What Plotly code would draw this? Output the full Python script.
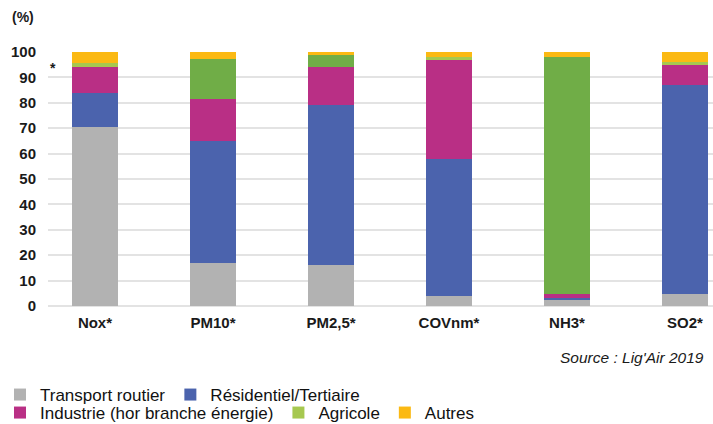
import plotly.graph_objects as go

categories = ["Nox*", "PM10*", "PM2,5*", "COVnm*", "NH3*", "SO2*"]
transport = [70.5, 17.0, 16.0, 4.0, 2.4, 4.7]
residentiel = [13.2, 48.0, 63.0, 54.0, 0.6, 82.3]
industrie = [10.5, 16.5, 15.0, 39.0, 1.8, 8.0]
agricole = [1.5, 15.7, 5.0, 1.0, 93.2, 1.2]
autres = [4.3, 2.8, 1.0, 2.0, 2.0, 3.8]
yticks = [0, 10, 20, 30, 40, 50, 60, 70, 80, 90, 100]

FONT = "Liberation Sans"
PLOT_L, PLOT_T, PLOT_B, W, H = 48, 52, 306, 713, 424
PH = PLOT_B - PLOT_T
PW = W - PLOT_L

def px_x(px):
    return (px - PLOT_L) / PW

def px_y(py):
    return (PLOT_B - py) / PH

agri_colors = ["#a6c850", "#70ad47", "#70ad47", "#a6c850", "#70ad47", "#a6c850"]

series = [
    ("Transport routier", transport, "#b2b2b2", "legend"),
    ("Résidentiel/Tertiaire", residentiel, "#4b63ad", "legend"),
    ("Industrie (hor branche énergie)", industrie, "#b92f85", "legend2"),
    ("Agricole", agricole, agri_colors, "legend2"),
    ("Autres", autres, "#fbb913", "legend2"),
]

fig = go.Figure()
for name, vals, color, leg in series:
    fig.add_trace(go.Bar(
        x=categories, y=vals, name=name,
        marker=dict(color=color, line=dict(width=0)),
        width=0.39, legend=leg, hoverinfo="x+y+name",
    ))

legend_common = dict(
    orientation="h", xanchor="left", yanchor="middle",
    xref="container", yref="container",
    font=dict(family=FONT, size=17, color="#111111"),
    bgcolor="rgba(0,0,0,0)", borderwidth=0,
    itemclick=False, itemdoubleclick=False,
    tracegroupgap=0, itemwidth=30, traceorder="normal",
)

fig.update_layout(
    width=W, height=H,
    margin=dict(l=PLOT_L, r=0, t=PLOT_T, b=H - PLOT_B, pad=0, autoexpand=False),
    barmode="stack",
    plot_bgcolor="white", paper_bgcolor="white",
    showlegend=True,
    legend=dict(x=-8 / W, y=1 - 395 / H, **legend_common),
    legend2=dict(x=-8 / W, y=1 - 413 / H, **legend_common),
    xaxis=dict(
        range=[-0.398, 5.237],
        showgrid=False, zeroline=False, showline=False, ticks="",
        tickfont=dict(family=FONT, size=15, color="#1a1a1a", weight="bold"),
        ticklabelstandoff=6, automargin=False,
        fixedrange=True,
    ),
    yaxis=dict(
        range=[0, 100],
        tickvals=yticks,
        showgrid=True, gridcolor="#e3e3e3", gridwidth=1.5,
        zeroline=True, zerolinecolor="#e3e3e3", zerolinewidth=1.5,
        showline=False, ticks="",
        tickfont=dict(family=FONT, size=15, color="#1a1a1a", weight="bold"),
        ticklabelstandoff=11, automargin=False,
        fixedrange=True,
    ),
    annotations=[
        dict(text="(%)", xref="paper", yref="paper", x=px_x(10), y=px_y(17),
             xanchor="left", yanchor="middle", showarrow=False,
             font=dict(family=FONT, size=14, color="#1a1a1a", weight="bold")),
        dict(text="*", xref="paper", yref="paper", x=px_x(53), y=px_y(68),
             xanchor="center", yanchor="middle", showarrow=False,
             font=dict(family=FONT, size=14, color="#1a1a1a", weight="bold")),
        dict(text="Source : Lig'Air 2019", xref="paper", yref="paper", x=px_x(706), y=px_y(357),
             xanchor="right", yanchor="middle", showarrow=False,
             font=dict(family=FONT, size=15.5, color="#1a1a1a", style="italic")),
    ],
)

fig.write_html(
    "out.html",
    config={"displayModeBar": False},
    post_script="document.body.style.margin='0';document.body.style.overflow='hidden';",
)
